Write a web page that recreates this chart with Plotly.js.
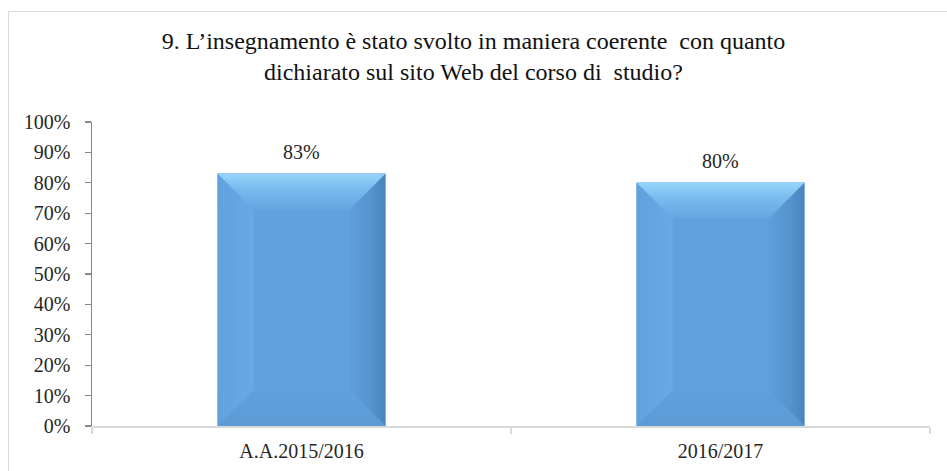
<!DOCTYPE html>
<html>
<head>
<meta charset="utf-8">
<script src="https://cdn.plot.ly/plotly-3.0.1.min.js"></script>
<style>
  html, body { margin:0; padding:0; background:#fff; overflow:hidden; }
  #wrap { position:relative; width:947px; height:471px; }
  #frame { position:absolute; left:8px; top:11px; width:980px; height:500px; border:1px solid #d9d9d9; box-sizing:border-box; pointer-events:none; }
  #chart { position:absolute; left:0; top:0; width:947px; height:471px; }
</style>
</head>
<body>
<div id="wrap">
  <div id="chart"></div>
  <div id="frame"></div>
</div>
<script>
// ---- data ----
const categories = ['A.A.2015/2016', '2016/2017'];
const values = [0.83, 0.80];
const titleText = '9. L’insegnamento è stato svolto in maniera coerente  con quanto<br>dichiarato sul sito Web del corso di  studio?';

// ---- style constants ----
const FONT = 'Liberation Serif, Times New Roman, serif';
const faceColor = '#61a2de';
const barWidth = 0.4;              // in category units
const bevelX = 36 / 419;           // bevel in x (category) units
const bevelY = 36 / 304;           // bevel in y units

const traces = [{
  type: 'bar',
  x: categories,
  y: values,
  width: barWidth,
  marker: { color: faceColor, line: { color: '#80b4e2', width: 0.8 } },
  hoverinfo: 'x+y',
  xaxis: 'x', yaxis: 'y'
}];

function poly(xs, ys, fillcolor, grad) {
  return {
    type: 'scatter', mode: 'lines',
    x: xs.concat([xs[0]]), y: ys.concat([ys[0]]),
    fill: 'toself', fillcolor: fillcolor, fillgradient: grad,
    line: { width: 0, color: 'rgba(0,0,0,0)' },
    hoverinfo: 'skip', showlegend: false,
    xaxis: 'x2', yaxis: 'y'
  };
}

values.forEach(function (v, i) {
  const L = i - barWidth / 2, R = i + barWidth / 2;
  const iL = L + bevelX, iR = R - bevelX, iT = v - bevelY, iB = bevelY;
  traces.push(poly([L, iL, iL, L], [v, iT, iB, 0], '#66a8e4',
    { type: 'horizontal', colorscale: [[0, '#60a2de'], [1, '#67aae6']] }));
  traces.push(poly([R, iR, iR, R], [v, iT, iB, 0], '#5896d1',
    { type: 'horizontal', colorscale: [[0, '#5e9fdb'], [0.6, '#5693cf'], [1, '#4a84bf']] }));
  traces.push(poly([L, iL, iR, R], [0, iB, iB, 0], '#5e9ed9',
    { type: 'vertical', colorscale: [[0, '#5b9ad5'], [1, '#60a1dd']] }));
  traces.push(poly([L, R, iR, iL], [v, v, iT, iT], '#7dbcf0',
    { type: 'vertical', colorscale: [[0, '#64a6e2'], [0.55, '#78b9ee'], [1, '#95d4fa']] }));
});

const annotations = categories.map(function (c, i) {
  return {
    x: c, y: values[i], xref: 'x', yref: 'y',
    text: Math.round(values[i] * 100) + '%',
    showarrow: false, yanchor: 'bottom', yshift: 9,
    font: { family: FONT, size: 20, color: '#262626' }
  };
});

const layout = {
  width: 947, height: 471,
  margin: { l: 92, r: 17, t: 122, b: 45, pad: 0 },
  paper_bgcolor: '#ffffff', plot_bgcolor: '#ffffff',
  showlegend: false,
  font: { family: FONT, size: 20, color: '#262626' },
  title: {
    text: titleText,
    x: 0.5, xref: 'container', xanchor: 'center',
    y: 1 - 49 / 471, yref: 'container', yanchor: 'top',
    font: { family: FONT, size: 24, color: '#111111' }
  },
  xaxis: {
    type: 'category',
    range: [-0.5, 1.5],
    showline: true, linecolor: '#d9d9d9', linewidth: 2,
    ticks: 'outside', tickson: 'boundaries', ticklen: 6, tickcolor: '#d9d9d9', tickwidth: 2,
    showgrid: false, zeroline: false,
    tickfont: { family: FONT, size: 20, color: '#262626' },
    ticklabelstandoff: 6,
    fixedrange: true
  },
  xaxis2: {
    overlaying: 'x', range: [-0.5, 1.5], visible: false, fixedrange: true
  },
  yaxis: {
    range: [0, 1], dtick: 0.1, tick0: 0, tickformat: '.0%',
    showline: true, linecolor: '#868686', linewidth: 1.5,
    ticks: 'outside', ticklen: 6, tickcolor: '#868686', tickwidth: 1.2,
    showgrid: false, zeroline: false,
    tickfont: { family: FONT, size: 20, color: '#262626' },
    ticklabelstandoff: 10,
    fixedrange: true
  },
  annotations: annotations
};

Plotly.newPlot('chart', traces, layout, { displayModeBar: false, staticPlot: true });
</script>
</body>
</html>
